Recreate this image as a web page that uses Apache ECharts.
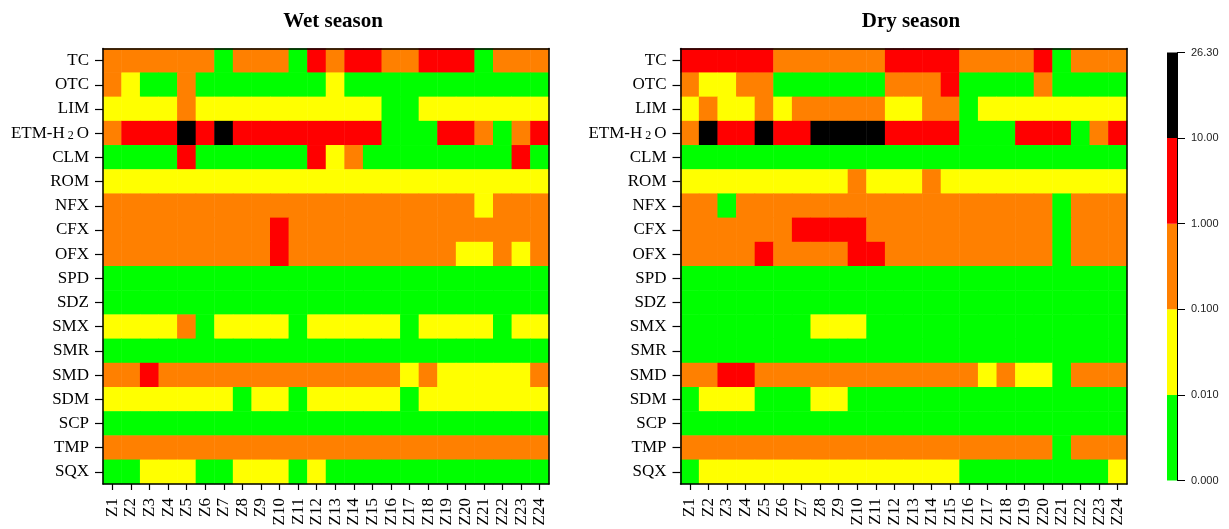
<!DOCTYPE html>
<html>
<head>
<meta charset="utf-8">
<script src="https://cdn.jsdelivr.net/npm/echarts@6/dist/echarts.min.js"></script>
<style>
    html, body { margin: 0; padding: 0; background: #fff; }
    #chart { width: 1229px; height: 529px; }
</style>
</head>
<body>
<div id="chart"></div>
<script>
// 行、列
const indicators = ['TC', 'OTC', 'LIM', 'ETM-H₂O', 'CLM', 'ROM', 'NFX', 'CFX', 'OFX',
    'SPD', 'SDZ', 'SMX', 'SMR', 'SMD', 'SDM', 'SCP', 'TMP', 'SQX'];
const zones = ['Z1', 'Z2', 'Z3', 'Z4', 'Z5', 'Z6', 'Z7', 'Z8', 'Z9', 'Z10', 'Z11', 'Z12',
    'Z13', 'Z14', 'Z15', 'Z16', 'Z17', 'Z18', 'Z19', 'Z20', 'Z21', 'Z22', 'Z23', 'Z24'];

// 等级: 0 = 0.000-0.010, 1 = 0.010-0.100, 2 = 0.100-1.000, 3 = 1.000-10.00, 4 = 10.00-26.30
const wetLevels = [
    [2,2,2,2,2,2,0,2,2,2,0,3,2,3,3,2,2,3,3,3,0,2,2,2], // TC
    [2,1,0,0,2,0,0,0,0,0,0,0,1,0,0,0,0,0,0,0,0,0,0,0], // OTC
    [1,1,1,1,2,1,1,1,1,1,1,1,1,1,1,0,0,1,1,1,1,1,1,1], // LIM
    [2,3,3,3,4,3,4,3,3,3,3,3,3,3,3,0,0,0,3,3,2,0,2,3], // ETM-H2O
    [0,0,0,0,3,0,0,0,0,0,0,3,1,2,0,0,0,0,0,0,0,0,3,0], // CLM
    [1,1,1,1,1,1,1,1,1,1,1,1,1,1,1,1,1,1,1,1,1,1,1,1], // ROM
    [2,2,2,2,2,2,2,2,2,2,2,2,2,2,2,2,2,2,2,2,1,2,2,2], // NFX
    [2,2,2,2,2,2,2,2,2,3,2,2,2,2,2,2,2,2,2,2,2,2,2,2], // CFX
    [2,2,2,2,2,2,2,2,2,3,2,2,2,2,2,2,2,2,2,1,1,2,1,2], // OFX
    [0,0,0,0,0,0,0,0,0,0,0,0,0,0,0,0,0,0,0,0,0,0,0,0], // SPD
    [0,0,0,0,0,0,0,0,0,0,0,0,0,0,0,0,0,0,0,0,0,0,0,0], // SDZ
    [1,1,1,1,2,0,1,1,1,1,0,1,1,1,1,1,0,1,1,1,1,0,1,1], // SMX
    [0,0,0,0,0,0,0,0,0,0,0,0,0,0,0,0,0,0,0,0,0,0,0,0], // SMR
    [2,2,3,2,2,2,2,2,2,2,2,2,2,2,2,2,1,2,1,1,1,1,1,2], // SMD
    [1,1,1,1,1,1,1,0,1,1,0,1,1,1,1,1,0,1,1,1,1,1,1,1], // SDM
    [0,0,0,0,0,0,0,0,0,0,0,0,0,0,0,0,0,0,0,0,0,0,0,0], // SCP
    [2,2,2,2,2,2,2,2,2,2,2,2,2,2,2,2,2,2,2,2,2,2,2,2], // TMP
    [0,0,1,1,1,0,0,1,1,1,0,1,0,0,0,0,0,0,0,0,0,0,0,0]  // SQX
];

const dryLevels = [
    [3,3,3,3,3,2,2,2,2,2,2,3,3,3,3,2,2,2,2,3,0,2,2,2], // TC
    [2,1,1,2,2,0,0,0,0,0,0,2,2,2,3,0,0,0,0,2,0,0,0,0], // OTC
    [1,2,1,1,2,1,2,2,2,2,2,1,1,2,2,0,1,1,1,1,1,1,1,1], // LIM
    [2,4,3,3,4,3,3,4,4,4,4,3,3,3,3,0,0,0,3,3,3,0,2,3], // ETM-H2O
    [0,0,0,0,0,0,0,0,0,0,0,0,0,0,0,0,0,0,0,0,0,0,0,0], // CLM
    [1,1,1,1,1,1,1,1,1,2,1,1,1,2,1,1,1,1,1,1,1,1,1,1], // ROM
    [2,2,0,2,2,2,2,2,2,2,2,2,2,2,2,2,2,2,2,2,0,2,2,2], // NFX
    [2,2,2,2,2,2,3,3,3,3,2,2,2,2,2,2,2,2,2,2,0,2,2,2], // CFX
    [2,2,2,2,3,2,2,2,2,3,3,2,2,2,2,2,2,2,2,2,0,2,2,2], // OFX
    [0,0,0,0,0,0,0,0,0,0,0,0,0,0,0,0,0,0,0,0,0,0,0,0], // SPD
    [0,0,0,0,0,0,0,0,0,0,0,0,0,0,0,0,0,0,0,0,0,0,0,0], // SDZ
    [0,0,0,0,0,0,0,1,1,1,0,0,0,0,0,0,0,0,0,0,0,0,0,0], // SMX
    [0,0,0,0,0,0,0,0,0,0,0,0,0,0,0,0,0,0,0,0,0,0,0,0], // SMR
    [2,2,3,3,2,2,2,2,2,2,2,2,2,2,2,2,1,2,1,1,0,2,2,2], // SMD
    [0,1,1,1,0,0,0,1,1,0,0,0,0,0,0,0,0,0,0,0,0,0,0,0], // SDM
    [0,0,0,0,0,0,0,0,0,0,0,0,0,0,0,0,0,0,0,0,0,0,0,0], // SCP
    [2,2,2,2,2,2,2,2,2,2,2,2,2,2,2,2,2,2,2,2,0,2,2,2], // TMP
    [0,1,1,1,1,1,1,1,1,1,1,1,1,1,1,0,0,0,0,0,0,0,0,1]  // SQX
];

// 色标
const levelColors = ['#00ff00', '#ffff00', '#ff8000', '#ff0000', '#000000'];
const levelLabels = ['0.000', '0.010', '0.100', '1.000', '10.00', '26.30'];

const chart = echarts.init(document.getElementById('chart'));

// 转成 [x, y, level]
function toCells(levels) {
    const list = [];
    levels.forEach((row, y) => {
        row.forEach((v, x) => list.push([x, y, v]));
    });
    return list;
}

const serif = 'Liberation Serif';
const frameLine = {show: true, lineStyle: {color: '#000', width: 1.5}};

// 一个热图的坐标轴
function heatAxes(gridIndex) {
    return {
        x: [
            {
                type: 'category', gridIndex, data: zones, position: 'bottom', z: 10,
                axisLine: frameLine,
                axisTick: {show: true, alignWithLabel: true, length: 6, lineStyle: {color: '#000', width: 1.2}},
                axisLabel: {rotate: 90, margin: 14, color: '#000', fontFamily: serif, fontSize: 17, interval: 0},
                splitLine: {show: false}
            },
            {
                type: 'category', gridIndex, data: zones, position: 'top', z: 10,
                axisLine: frameLine, axisTick: {show: false}, axisLabel: {show: false}
            }
        ],
        y: [
            {
                type: 'category', gridIndex, data: indicators, inverse: true, position: 'left', z: 10,
                axisLine: frameLine,
                axisTick: {show: true, alignWithLabel: true, length: 8, lineStyle: {color: '#000', width: 1.2}},
                axisLabel: {
                    margin: 14, color: '#000', fontFamily: serif, fontSize: 17, interval: 0,
                    // 下标 2
                    formatter: v => v.replace('₂', '{sub|2}'),
                    rich: {
                        sub: {fontFamily: serif, fontSize: 12, color: '#000', padding: [5, 3, 0, 3]}
                    }
                },
                splitLine: {show: false}
            },
            {
                type: 'category', gridIndex, data: indicators, inverse: true, position: 'right', z: 10,
                axisLine: frameLine, axisTick: {show: false}, axisLabel: {show: false}
            }
        ]
    };
}

const wetAxes = heatAxes(0);
const dryAxes = heatAxes(1);

const xAxis = [...wetAxes.x, ...dryAxes.x, {
    type: 'category', gridIndex: 2, data: [''], show: false
}];
const yAxis = [...wetAxes.y, ...dryAxes.y, {
    type: 'value', gridIndex: 2, min: 0, max: 5, interval: 1, position: 'right', z: 10,
    axisLine: {show: true, lineStyle: {color: '#000', width: 1}},
    axisTick: {show: true, length: 8, lineStyle: {color: '#000'}},
    axisLabel: {
        margin: 14, color: '#222', fontFamily: 'Liberation Sans', fontSize: 11,
        formatter: v => levelLabels[v]
    },
    splitLine: {show: false}
}];

// 色标用堆叠柱
const legendSeries = levelColors.map((c, i) => ({
    type: 'bar',
    xAxisIndex: 4,
    yAxisIndex: 4,
    stack: 'legend',
    barWidth: '100%',
    data: [1],
    itemStyle: {color: c},
    silent: true
}));

chart.setOption({
    backgroundColor: '#fff',
    animation: false,
    title: [
        {
            text: 'Wet season', left: 328, top: 6, textAlign: 'center',
            textStyle: {fontFamily: serif, fontWeight: 'bold', fontSize: 21, color: '#000'}
        },
        {
            text: 'Dry season', left: 906, top: 6, textAlign: 'center',
            textStyle: {fontFamily: serif, fontWeight: 'bold', fontSize: 21, color: '#000'}
        }
    ],
    grid: [
        {left: 103, top: 48.5, width: 446, height: 435.5},
        {left: 680.5, top: 48.5, width: 446.5, height: 435.5},
        {left: 1167, top: 52.5, width: 10, height: 428}
    ],
    xAxis,
    yAxis,
    visualMap: {
        type: 'piecewise',
        show: false,
        seriesIndex: [0, 1],
        dimension: 2,
        pieces: levelColors.map((color, i) => ({value: i, color}))
    },
    series: [
        {
            type: 'heatmap', xAxisIndex: 0, yAxisIndex: 0,
            data: toCells(wetLevels), silent: true
        },
        {
            type: 'heatmap', xAxisIndex: 2, yAxisIndex: 2,
            data: toCells(dryLevels), silent: true
        },
        ...legendSeries
    ]
});
</script>
</body>
</html>
